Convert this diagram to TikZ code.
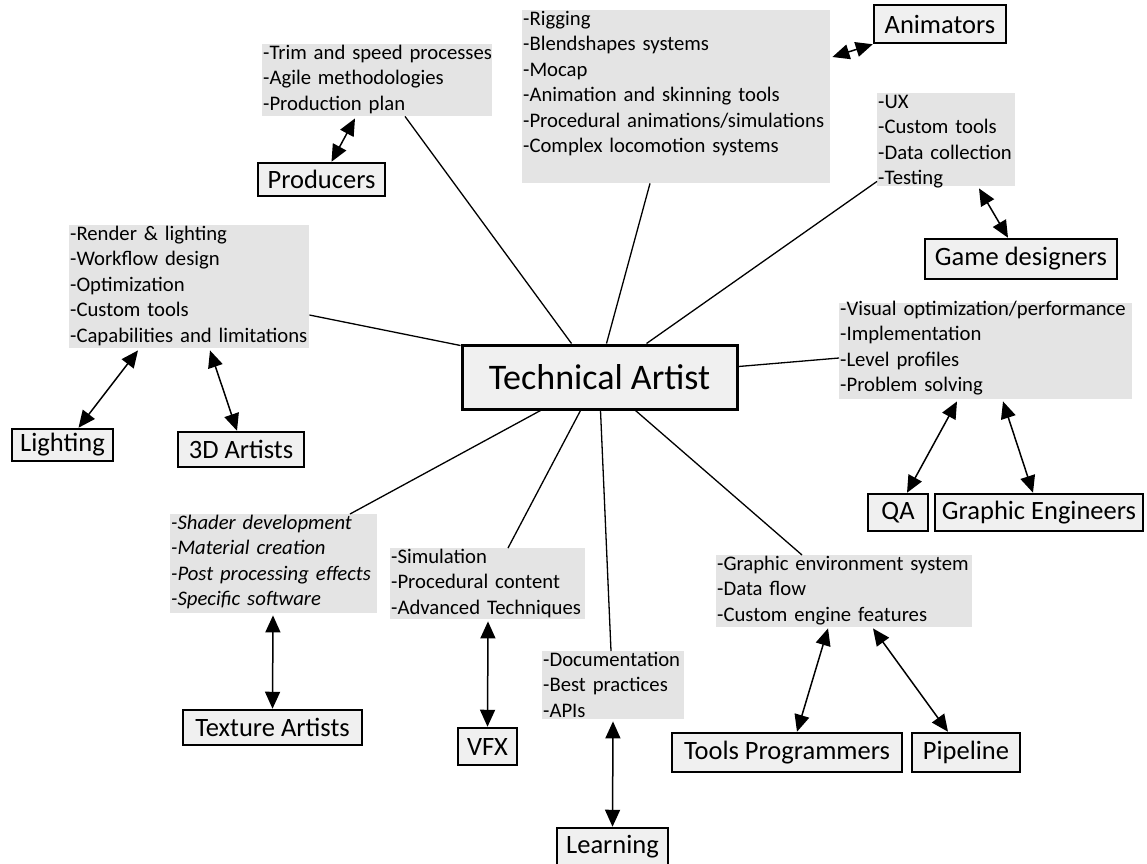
\documentclass[tikz,border=0pt]{standalone}
\usepackage{fontspec}
\setmainfont{Carlito}
\usetikzlibrary{arrows.meta}
\definecolor{listgray}{RGB}{228,228,228}
\definecolor{boxgray}{RGB}{240,240,240}
\newcommand{\listfont}{\fontsize{20.7}{25.5}\selectfont\hyphenpenalty=10000\exhyphenpenalty=10000\relax}
\newcommand{\rolefont}{\fontsize{26.5}{30}\selectfont}
\newcommand{\hubfont}{\fontsize{36}{40}\selectfont}

\begin{document}
\begin{tikzpicture}[x=1pt,y=-1pt]
\tikzstyle{list}=[fill=listgray, anchor=north west, align=left, inner xsep=1pt, inner ysep=0pt, text height=15pt, font=\listfont]
\tikzstyle{role}=[draw=black, line width=2.5pt, fill=boxgray, inner sep=0pt, font=\rolefont]
\tikzstyle{link}=[black, line width=1.3pt]
\tikzstyle{both}=[black, line width=1.5pt, {Triangle[length=17pt,width=15pt]}-{Triangle[length=17pt,width=15pt]}]
\useasboundingbox (0,0) rectangle (1147,863);
% hub
\node [role, line width=3pt, font=\hubfont, minimum width=275pt, minimum height=64pt] (tech) at (599.5,377) {Technical Artist};
% task lists
\node [list, text width=228pt, text depth=57pt] (prodlist) at (262,44) {-Trim~and~speed~processes\\-Agile~methodologies\\-Production~plan};
\node [list, text width=306pt, text depth=158pt] (animlist) at (522,10) {-Rigging\\-Blendshapes~systems\\-Mocap\\-Animation~and~skinning~tools\\-Procedural~animations/simulations\\-Complex~locomotion~systems};
\node [list, text width=136pt, text depth=78pt] (gamelist) at (877,93) {-UX\\-Custom~tools\\-Data~collection\\-Testing};
\node [list, text width=238pt, text depth=108pt] (lightlist) at (69,225) {-Render~\&~lighting\\-Workflow~design\\-Optimization\\-Custom~tools\\-Capabilities~and~limitations};
\node [list, text width=291pt, text depth=84pt, text height=12pt] (qalist) at (839,303) {-Visual~optimization/performance\\-Implementation\\-Level~profiles\\-Problem~solving};
\node [list, text width=205pt, text depth=84pt, font=\listfont\itshape] (texlist) at (170,514) {-Shader~development\\-Material~creation\\-Post~processing~effects\\-Specific~software};
\node [list, text width=193pt, text depth=56pt] (vfxlist) at (390,548) {-Simulation\\-Procedural~content\\-Advanced~Techniques};
\node [list, text width=140pt, text depth=53pt] (doclist) at (542,651) {-Documentation\\-Best~practices\\-APIs};
\node [list, text width=254pt, text depth=57pt] (envlist) at (716,555) {-Graphic~environment~system\\-Data~flow\\-Custom~engine~features};
% roles
\node [role, minimum width=127pt, minimum height=33pt] (producers) at (321.5,179.5) {Producers};
\node [role, minimum width=132pt, minimum height=38pt] (animators) at (940,24) {Animators};
\node [role, minimum width=192pt, minimum height=40pt] (gamedes) at (1021,259) {Game designers};
\node [role, minimum width=101pt, minimum height=32pt] (lighting) at (62.5,445) {Lighting};
\node [role, minimum width=126pt, minimum height=35pt] (artists) at (241,449.5) {3D Artists};
\node [role, minimum width=60pt, minimum height=37pt] (qa) at (898,512.5) {QA};
\node [role, minimum width=208pt, minimum height=37pt] (grapheng) at (1039,512.5) {Graphic Engineers};
\node [role, minimum width=179pt, minimum height=35pt] (texart) at (272.5,727.5) {Texture Artists};
\node [role, minimum width=59pt, minimum height=37pt] (vfx) at (487.5,746.5) {VFX};
\node [role, minimum width=111pt, minimum height=38pt] (learning) at (612.5,847) {Learning};
\node [role, minimum width=230pt, minimum height=39pt] (toolsprog) at (787,752.5) {Tools Programmers};
\node [role, minimum width=108pt, minimum height=39pt] (pipeline) at (966,752.5) {Pipeline};
% hub to lists
\draw [link] ([xshift=111pt]tech.north west) -- ([xshift=143pt]prodlist.south west);
\draw [link] ([xshift=146pt]tech.north west) -- ([xshift=128pt]animlist.south west);
\draw [link] ([xshift=186pt]tech.north west) -- ([yshift=5pt]gamelist.south west);
\draw [link] ([yshift=-2pt]tech.north west) -- ([yshift=-90pt]lightlist.north east);
\draw [link] ([yshift=-23pt]tech.north east) -- ([yshift=-55pt]qalist.north west);
\draw [link] ([xshift=80pt]tech.south west) -- ([xshift=180pt]texlist.north west);
\draw [link] ([xshift=120pt]tech.south west) -- ([xshift=118pt]vfxlist.north west);
\draw [link] ([xshift=140pt]tech.south west) -- ([xshift=69pt]doclist.north west);
\draw [link] ([xshift=175pt]tech.south west) -- ([xshift=86pt]envlist.north west);
% lists to roles
\draw [both] ([xshift=93pt,yshift=-2pt]prodlist.south west) -- ([xshift=10pt]producers.north);
\draw [both] ([xshift=2pt,yshift=-47pt]animlist.north east) -- (animators.south west);
\draw [both] ([xshift=102pt,yshift=-2pt]gamelist.south west) -- ([xshift=-13pt]gamedes.north);
\draw [both] ([xshift=69pt,yshift=-2pt]lightlist.south west) -- ([xshift=16pt]lighting.north);
\draw [both] ([xshift=141pt,yshift=-2pt]lightlist.south west) -- ([xshift=-4pt]artists.north);
\draw [both] ([xshift=118pt,yshift=-2pt]qalist.south west) -- ([xshift=9pt]qa.north);
\draw [both] ([xshift=164pt,yshift=-2pt]qalist.south west) -- ([xshift=-6pt]grapheng.north);
\draw [both] ([xshift=103pt,yshift=-2pt]texlist.south west) -- (texart.north);
\draw [both] ([xshift=98pt,yshift=-2pt]vfxlist.south west) -- (vfx.north);
\draw [both] ([xshift=71pt,yshift=-2pt]doclist.south west) -- (learning.north);
\draw [both] ([xshift=112pt,yshift=-1pt]envlist.south west) -- ([xshift=10pt]toolsprog.north);
\draw [both] ([xshift=157pt,yshift=-1pt]envlist.south west) -- ([xshift=-18pt]pipeline.north);
\end{tikzpicture}
\end{document}
